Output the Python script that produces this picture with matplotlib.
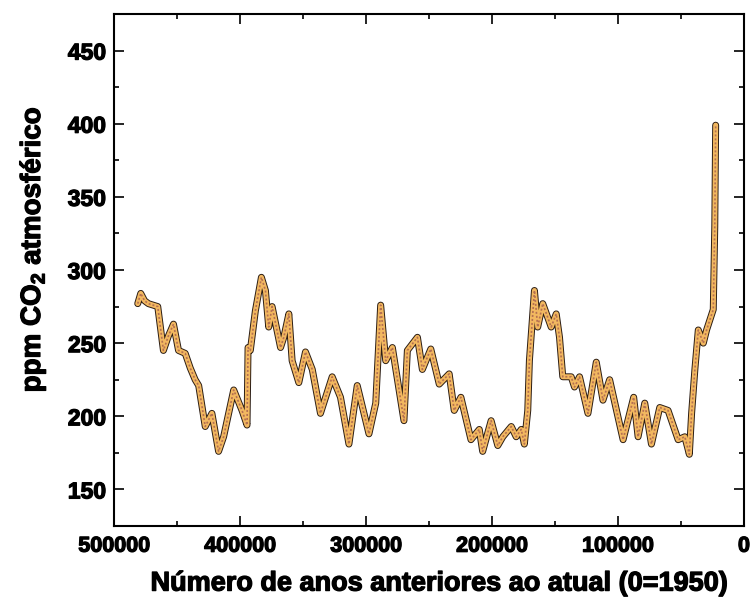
import matplotlib
matplotlib.use("Agg")
import matplotlib.pyplot as plt
import matplotlib.patheffects as pe
from matplotlib.ticker import MultipleLocator

# Vostok-style CO2 record
years = [481400, 479000, 476000, 472900, 465500, 461000, 457000, 453000, 449000,
         443700, 439700, 435800, 433000, 427800, 422500, 417200, 413200, 405200,
         398600, 394600, 393800, 392000, 388000, 383200, 380000, 377400, 374700,
         368000, 365400, 361400, 358800, 353500, 348200, 342800, 336300, 327000,
         320400, 313700, 307100, 297800, 292400, 288500, 284500, 279200, 270000,
         267300, 259300, 255400, 248700, 242000, 234100, 230100, 224800, 216800,
         210200, 207500, 200800, 195500, 191500, 184800, 180900, 176900, 174400,
         171700, 170400, 166400, 163800, 159800, 153100, 149100, 146500, 143900,
         137200, 134600, 130600, 123900, 117300, 112000, 106700, 96000, 87600,
         84100, 78800, 73500, 66900, 60300, 52300, 47000, 43400, 41600, 39000,
         36300, 32300, 29700, 24400, 23200, 22500]
co2 = [277, 284, 279, 277, 275, 245, 255, 263, 245,
       243, 233, 225, 221, 193, 202, 176, 186, 218,
       204, 194, 247, 245, 272, 295, 286, 261, 275,
       247, 254, 270, 238, 223, 244, 232, 202, 227,
       213, 181, 221, 188, 209, 276, 238, 247, 197,
       245, 254, 232, 246, 222, 229, 204, 213, 184,
       191, 176, 197, 180, 186, 193, 186, 191, 181,
       204, 238, 286, 261, 277, 261, 270, 254, 227,
       227, 220, 227, 202, 237, 211, 225, 184, 213,
       186, 209, 181, 206, 204, 184, 186, 174, 202, 232,
       259, 250, 259, 273, 330, 399]

xticks = [500000, 400000, 300000, 200000, 100000, 0]
yticks = [150, 200, 250, 300, 350, 400, 450]

plt.rcParams["font.family"] = ["Liberation Sans", "DejaVu Sans"]
plt.rcParams["font.weight"] = "bold"
plt.rcParams["mathtext.fontset"] = "custom"
plt.rcParams["mathtext.bf"] = "Liberation Sans:bold"
plt.rcParams["mathtext.rm"] = "Liberation Sans:bold"

heavy = [pe.withStroke(linewidth=0.9, foreground="black")]

fig = plt.figure(figsize=(7.5, 6.01), dpi=100)
ax = fig.add_axes([0.1524, 0.1248, 0.8396, 0.8519])

# thick textured-looking line: dark edge, orange body, brownish streak
kw = dict(solid_joinstyle="round", solid_capstyle="round")
ax.plot(years, co2, color="#2b1d14", lw=5.0, **kw)
ax.plot(years, co2, color="#f2b860", lw=3.6, **kw)
ax.plot(years, co2, color="#a0584c", lw=1.2, dashes=(1.2, 1.2), alpha=0.75)

ax.set_xlim(500000, 0)
ax.set_ylim(125, 475)
ax.set_xticks(xticks)
ax.set_yticks(yticks)
ax.xaxis.set_minor_locator(MultipleLocator(50000))
ax.yaxis.set_minor_locator(MultipleLocator(25))

ax.tick_params(which="both", direction="in", top=True, right=True, width=1.2)
ax.tick_params(which="major", length=7.2)
ax.tick_params(which="minor", length=3.6)
ax.tick_params(axis="x", labelsize=15.5, pad=7)
ax.tick_params(axis="y", labelsize=16.5, pad=6)
for lab in ax.get_xticklabels() + ax.get_yticklabels():
    lab.set_path_effects(heavy)
for s in ax.spines.values():
    s.set_linewidth(1.5)

ax.set_xlabel("Número de anos anteriores ao atual (0=1950)", fontsize=19.5,
              fontweight="bold", labelpad=10, path_effects=heavy)
ax.set_ylabel(r"ppm CO$_\mathbf{2}$ atmosférico", fontsize=20,
              fontweight="bold", labelpad=14, path_effects=heavy)
ax.xaxis.label.set_x(0.516)
ax.yaxis.label.set_y(0.54)

plt.savefig("out.png", dpi=100)
print("Saved out.png")
